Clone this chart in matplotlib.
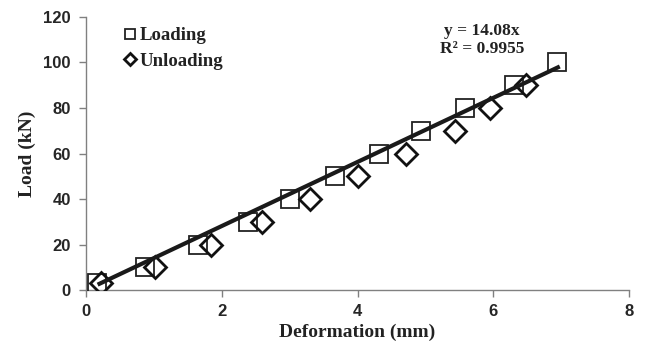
import matplotlib
matplotlib.use("Agg")
import matplotlib.pyplot as plt
import numpy as np

load_def = [0.16, 0.87, 1.65, 2.39, 3.00, 3.67, 4.32, 4.93, 5.58, 6.30, 6.94]
load_val = [3, 10, 20, 30, 40, 50, 60, 70, 80, 90, 100]
unload_def = [0.22, 1.02, 1.84, 2.59, 3.30, 4.01, 4.71, 5.43, 5.95, 6.48]
unload_val = [3, 10, 20, 30, 40, 50, 60, 70, 80, 90]
slope = 14.08
fit_x = [0.2, 6.95]
xticks = [0, 2, 4, 6, 8]
yticks = [0, 20, 40, 60, 80, 100, 120]

serif = "Liberation Serif"
sans = "Liberation Sans"
plt.rcParams["font.family"] = [sans, "DejaVu Sans"]
plt.rcParams["font.weight"] = "bold"

fig = plt.figure(figsize=(6.46, 3.53), dpi=100)
ax = fig.add_axes([0.133, 0.178, 0.841, 0.774])

ax.plot(load_def, load_val, linestyle="none", marker="s", markersize=13,
        markerfacecolor="none", markeredgecolor="#222222", markeredgewidth=1.3,
        label="Loading", zorder=3)
ax.plot(unload_def, unload_val, linestyle="none", marker="D", markersize=11,
        markerfacecolor="none", markeredgecolor="#111111", markeredgewidth=2.0,
        label="Unloading", zorder=3)
fx = np.array(fit_x)
ax.plot(fx, slope * fx, color="#1a1a1a", linewidth=3, zorder=4)

ax.set_xlim(0, 8)
ax.set_ylim(0, 120)
ax.set_xticks(xticks)
ax.set_yticks(yticks)
for s in ["top", "right"]:
    ax.spines[s].set_visible(False)
for s in ["left", "bottom"]:
    ax.spines[s].set_color("#808080")
    ax.spines[s].set_linewidth(1.0)
ax.tick_params(direction="out", length=5, color="#808080", width=1.0,
               labelsize=12, labelcolor="#262626")
ax.tick_params(axis="y", pad=6)
ax.tick_params(axis="x", pad=5)

ax.set_xlabel("Deformation (mm)", fontfamily=serif, fontweight="bold",
              fontsize=14, color="#222222", labelpad=3)
ax.set_ylabel("Load (kN)", fontfamily=serif, fontweight="bold",
              fontsize=14, color="#222222", labelpad=5)

leg = ax.legend(loc="upper left", bbox_to_anchor=(0.045, 1.0), frameon=False,
                handletextpad=0.0, handlelength=1.0, borderaxespad=0.15,
                labelspacing=0.45, markerscale=0.6,
                prop={"family": serif, "weight": "bold", "size": 13.5})
for t in leg.get_texts():
    t.set_color("#222222")

ax.text(5.83, 110, "y = 14.08x\nR² = 0.9955", ha="center", va="center",
        fontfamily=serif, fontweight="bold", fontsize=12.5, color="#222222",
        linespacing=1.2)

fig.savefig("out.png", dpi=100)
